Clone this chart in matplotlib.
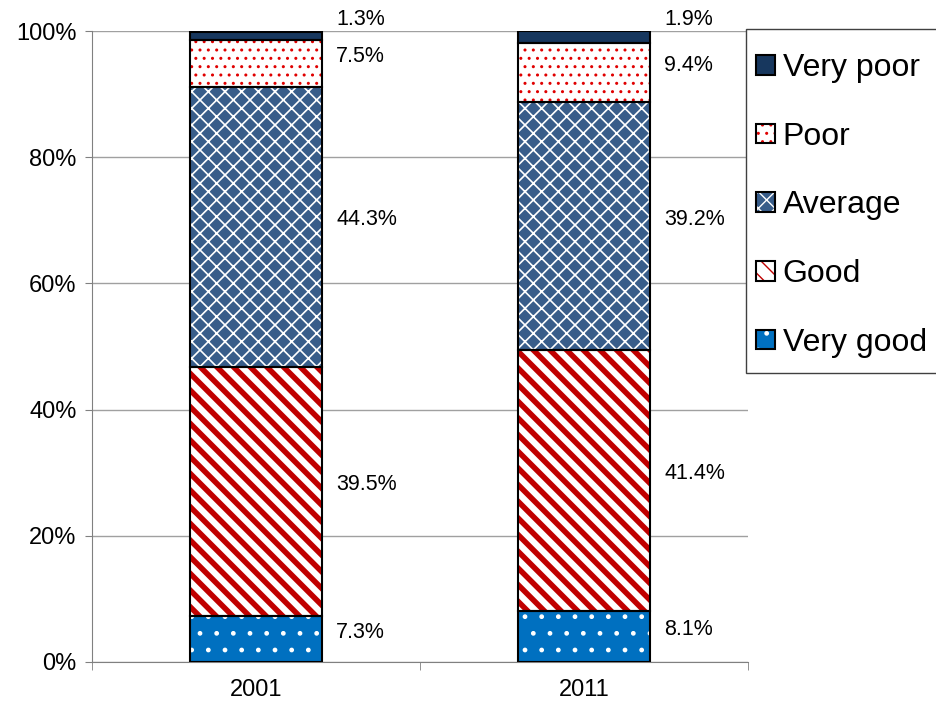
import numpy as np
import matplotlib.pyplot as plt
from matplotlib.patches import Patch, Rectangle

plt.rcParams['font.family'] = ['Liberation Sans', 'DejaVu Sans']

years = ['2001', '2011']
categories = ['Very good', 'Good', 'Average', 'Poor', 'Very poor']
values = {
    'Very good': [7.3, 8.1],
    'Good': [39.5, 41.4],
    'Average': [44.3, 39.2],
    'Poor': [7.5, 9.4],
    'Very poor': [1.3, 1.9],
}

# face colour, hatch colour, hatch pattern
styles = {
    'Very good': ('#0070C0', 'white', '.'),
    'Good': ('white', '#C00000', '\\\\'),
    'Average': ('#385D8A', 'white', 'xx'),
    'Poor': ('white', '#E00000', '..'),
    'Very poor': ('#17375E', '#17375E', ''),
}
hatch_lw = {'Very good': 1.0, 'Good': 4.0, 'Average': 1.2, 'Poor': 1.0, 'Very poor': 1.0}

fig = plt.figure(figsize=(9.37, 7.08), dpi=100)
ax = fig.add_axes([92 / 937, 1 - 662 / 708, 656 / 937, 631 / 708])

x = np.arange(len(years))
width = 0.40
bottom = np.zeros(len(years))
for cat in categories:
    vals = np.array(values[cat])
    face, hcol, hatch = styles[cat]
    plt.rcParams['hatch.linewidth'] = hatch_lw[cat]
    ax.bar(x, vals, width, bottom=bottom, color=face, edgecolor=hcol,
           hatch=hatch, linewidth=0, zorder=2)
    ax.bar(x, vals, width, bottom=bottom, facecolor='none', edgecolor='black',
           linewidth=1.5, zorder=3)
    for i, v in enumerate(vals):
        mid = bottom[i] + v / 2
        if cat == 'Very poor':
            y = 101.8
        else:
            y = mid + 1.1
        ax.text(x[i] + width / 2 + 0.045, y, f'{v:.1f}%', fontsize=15.5,
                va='center', ha='left', clip_on=False)
    bottom += vals

ax.set_xlim(-0.5, 1.5)
ax.set_ylim(0, 100)
ax.set_yticks(np.arange(0, 101, 20))
ax.set_yticklabels([f'{t}%' for t in range(0, 101, 20)], fontsize=17)
ax.set_xticks(x)
ax.set_xticklabels(years, fontsize=17)
ax.set_xticks([-0.5, 0.5, 1.5], minor=True)
ax.tick_params(axis='x', which='major', length=0, pad=12)
ax.tick_params(axis='x', which='minor', length=6, color='#808080')
ax.tick_params(axis='y', length=5, color='#808080', pad=6)
ax.grid(axis='y', color='#A0A0A0', linewidth=1, zorder=0)
ax.set_axisbelow(True)
for s in ['top', 'right']:
    ax.spines[s].set_visible(False)
for s in ['left', 'bottom']:
    ax.spines[s].set_color('#808080')

# legend box drawn by hand so padding can be set freely
fig.patches.append(Rectangle((746 / 937, 1 - 373 / 708), 200 / 937, 344 / 708,
                             transform=fig.transFigure, facecolor='white',
                             edgecolor='#404040', linewidth=1.0, zorder=0))

handles = []
for cat in categories[::-1]:
    face, hcol, hatch = styles[cat]
    inner = Patch(facecolor=face, edgecolor=hcol, hatch=hatch, linewidth=0)
    outer = Patch(facecolor='none', edgecolor='black', linewidth=1.5)
    handles.append((inner, outer))
leg = fig.legend(handles, categories[::-1], loc='center left',
                 bbox_to_anchor=(756 / 937, 1 - 205.5 / 708), borderaxespad=0,
                 fontsize=23, handlelength=0.58, handleheight=0.56,
                 handletextpad=0.25, labelspacing=1.21, frameon=False,
                 borderpad=0)

fig.savefig('out.png', dpi=100)
